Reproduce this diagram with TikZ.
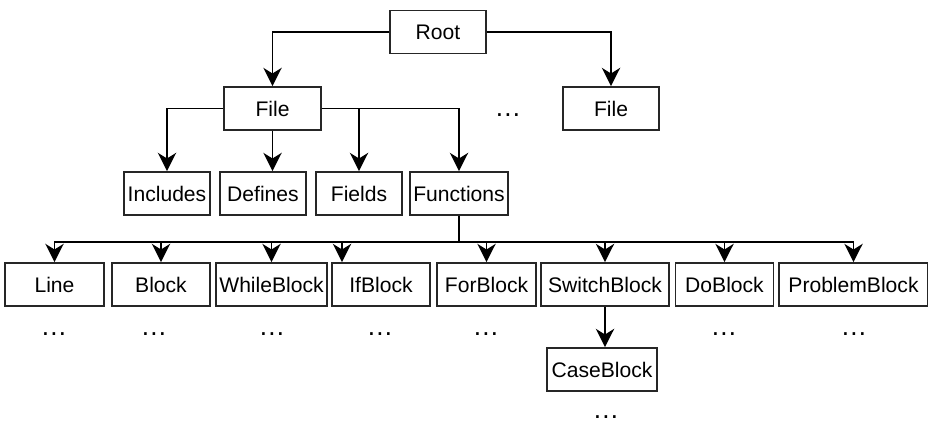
\documentclass[tikz,border=0pt]{standalone}
\usepackage{fontspec}
\setmainfont{Liberation Sans}
\usetikzlibrary{arrows.meta}

\tikzset{
  blk/.style={draw=black!85, line width=1.2pt, minimum height=1.075cm, inner sep=1pt, font=\fontsize{15}{18}\selectfont},
  arr/.style={-{Stealth[length=13pt,width=13pt,inset=4pt]}, line width=1.4pt},
  more/.style={font=\fontsize{19}{22}\selectfont}
}

\begin{document}
\begin{tikzpicture}[x=0.025cm, y=-0.025cm]
\useasboundingbox (0,0) rectangle (928,427);
\node[blk, minimum width=96*0.025cm] (root) at (438,32) {Root};
\node[blk, minimum width=97*0.025cm] (file) at (272.5,108.5) {File};
\node[blk, minimum width=96*0.025cm] (fileB) at (611,108.5) {File};
\node[more] (dotsFile) at (508,115) {\ldots};
\draw[arr] (root.west) -| (file.north);
\draw[arr] (root.east) -| (fileB.north);

\node[blk, minimum width=86*0.025cm] (includes) at (167,193.5) {Includes};
\node[blk, minimum width=86*0.025cm] (defines) at (263,193.5) {Defines};
\node[blk, minimum width=86*0.025cm] (fields) at (359,193.5) {Fields};
\node[blk, minimum width=98*0.025cm] (functions) at (459,193.5) {Functions};
\draw[arr] (file.west) -| (includes.north);
\draw[arr] (file.south) -- (file.south |- defines.north);
\draw[arr] (file.east) -| (fields.north);
\draw[arr] (file.east) -| (functions.north);

\node[blk, minimum width=99*0.025cm] (line) at (54.5,284.5) {Line};
\node[blk, minimum width=98*0.025cm] (block) at (161,284.5) {Block};
\node[blk, minimum width=111*0.025cm] (whileblock) at (271.5,284.5) {WhileBlock};
\node[blk, minimum width=98*0.025cm] (ifblock) at (381,284.5) {IfBlock};
\node[blk, minimum width=99*0.025cm] (forblock) at (486.5,284.5) {ForBlock};
\node[blk, minimum width=128*0.025cm] (switchblock) at (605,284.5) {SwitchBlock};
\node[blk, minimum width=98*0.025cm] (doblock) at (724.5,284.5) {DoBlock};
\node[blk, minimum width=149*0.025cm] (problemblock) at (853.5,284.5) {ProblemBlock};
\node[blk, minimum width=110*0.025cm] (caseblock) at (602,369.5) {CaseBlock};

\coordinate (bus) at (functions.south |- 0,242);
\draw[line width=1.4pt] (functions.south) -- (bus);
\draw[arr] (bus) -| (line.north);
\draw[arr] (bus) -| (block.north);
\draw[arr] (bus) -| (whileblock.north);
\draw[arr] (bus) -| ([xshift=-39*0.025cm] ifblock.north);
\draw[arr] (bus) -| (forblock.north);
\draw[arr] (bus) -| (switchblock.north);
\draw[arr] (bus) -| (doblock.north);
\draw[arr] (bus) -| (problemblock.north);
\draw[arr] (switchblock.south) -- (switchblock.south |- caseblock.north);

\node[more] (dLine) at (54,334) {\ldots};
\node[more] (dBlock) at (154,334) {\ldots};
\node[more] (dWhile) at (272,334) {\ldots};
\node[more] (dIf) at (380,334) {\ldots};
\node[more] (dFor) at (486,334) {\ldots};
\node[more] (dDo) at (724,334) {\ldots};
\node[more] (dProblem) at (854,334) {\ldots};
\node[more] (dCase) at (606,417) {\ldots};
\end{tikzpicture}
\end{document}
